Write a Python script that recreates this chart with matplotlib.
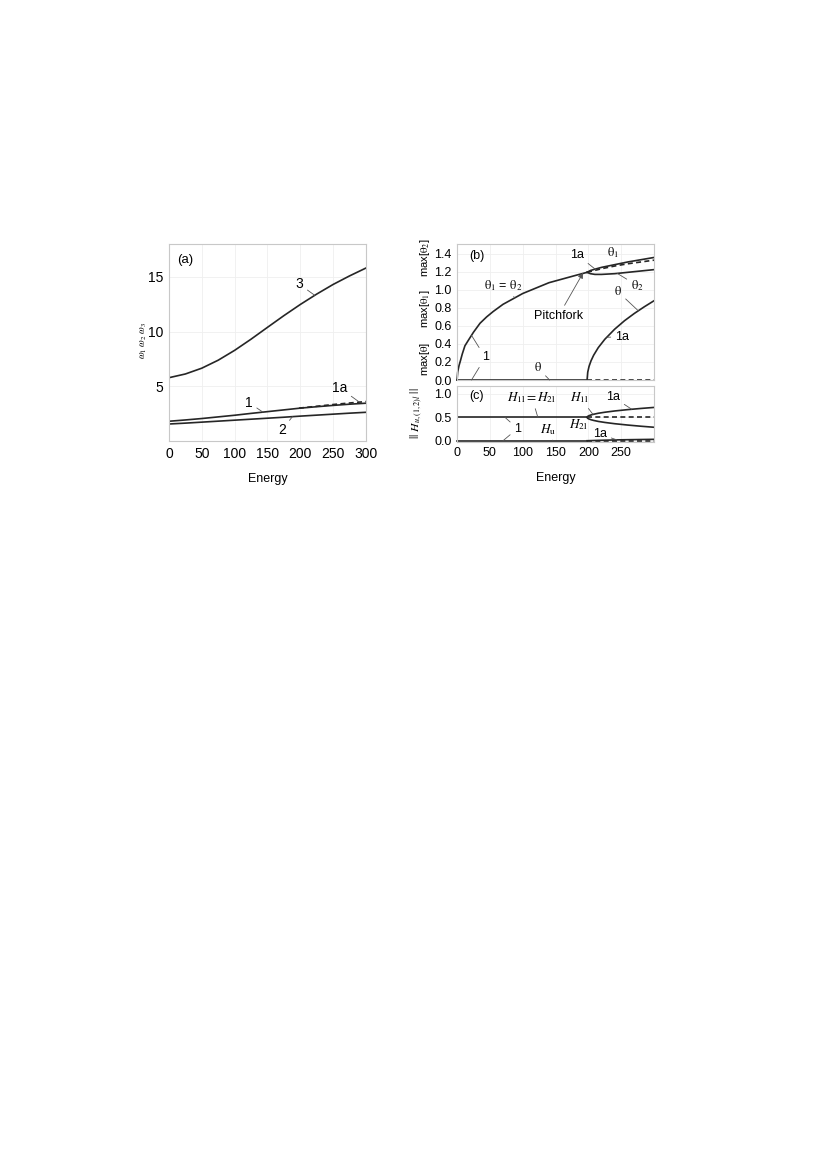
import numpy as np
import matplotlib
matplotlib.use("Agg")
import matplotlib.pyplot as plt

plt.rcParams['font.family'] = ['Liberation Sans', 'DejaVu Sans']
plt.rcParams['mathtext.fontset'] = 'stix'

# ---- panel (a): frequencies vs energy
E_a = [0, 25, 50, 75, 100, 125, 150, 175, 200, 225, 250, 275, 300]
w3 = [5.78, 6.12, 6.65, 7.38, 8.28, 9.3, 10.38, 11.45, 12.47, 13.42, 14.3, 15.08, 15.8]
w1 = [1.8, 1.92, 2.05, 2.2, 2.35, 2.52, 2.68, 2.84, 3.0, 3.13, 3.25, 3.36, 3.45]
w2 = [1.55, 1.63, 1.72, 1.81, 1.9, 1.99, 2.08, 2.17, 2.27, 2.36, 2.45, 2.54, 2.62]
E_a1a = [198, 225, 250, 275, 300]
w1a = [3.0, 3.17, 3.33, 3.47, 3.6]

# ---- panel (b): max angles
E_sym = [0, 1, 3, 5, 8, 12, 18, 25, 35, 45, 55, 70, 85, 100, 120, 140, 160, 180, 198]
th_sym = [0, 0.09, 0.16, 0.21, 0.29, 0.38, 0.45, 0.53, 0.63, 0.70, 0.76, 0.84, 0.90,
          0.96, 1.02, 1.08, 1.12, 1.16, 1.195]
E_sym_u = [198, 220, 240, 260, 280, 300]
th_sym_u = [1.195, 1.235, 1.265, 1.29, 1.31, 1.33]
E_pf = [198, 203, 210, 220, 240, 260, 280, 300]
th1_pf = [1.195, 1.215, 1.23, 1.25, 1.28, 1.31, 1.335, 1.36]
th2_pf = [1.195, 1.18, 1.172, 1.172, 1.18, 1.195, 1.21, 1.225]
E_zero = [0, 198]
E_zero_u = [198, 300]
E_1a = [198, 199, 201, 204, 208, 215, 225, 240, 255, 270, 285, 300]
th_1a = [0, 0.087, 0.151, 0.213, 0.275, 0.359, 0.452, 0.564, 0.658, 0.739, 0.812, 0.88]

# ---- panel (c): norms
E_h = [198, 199, 201, 204, 208, 215, 225, 240, 260, 280, 300]
h1l = [0.5, 0.521, 0.536, 0.551, 0.566, 0.587, 0.609, 0.636, 0.665, 0.69, 0.712]
h2l = [0.5, 0.479, 0.464, 0.449, 0.434, 0.413, 0.391, 0.364, 0.335, 0.31, 0.288]
E_hu = [198, 220, 250, 300]
hu_1a = [0, 0.01, 0.02, 0.03]

lc = '#262626'
gc = '#555555'
lw = 1.2
dash = (0, (3, 2))


def style(ax, fs):
    for s in ax.spines.values():
        s.set_color('#c8c8c8')
        s.set_linewidth(0.8)
    ax.tick_params(length=0, pad=4, labelsize=fs)
    ax.grid(True, color='#efefef', lw=0.6)
    ax.set_axisbelow(True)


def lab(ax, txt, xy, xyt, size=9, color='black'):
    ax.annotate(txt, xy=xy, xytext=xyt, ha='center', va='center', fontsize=size,
                color=color,
                arrowprops=dict(arrowstyle='-', color=gc, lw=0.6, shrinkA=1, shrinkB=0))


fig = plt.figure(figsize=(8.25, 11.7), dpi=100)

# (a)
ax = fig.add_axes([0.2048, 0.6231, 0.2388, 0.1684])
style(ax, 10)
ax.plot(E_a, w3, color=lc, lw=lw)
ax.plot(E_a, w1, color=lc, lw=lw)
ax.plot(E_a, w2, color=lc, lw=lw)
ax.plot(E_a1a, w1a, color=lc, lw=lw, ls=dash)
ax.set_xlim(0, 300)
ax.set_ylim(0, 18)
ax.set_xticks(range(0, 301, 50))
ax.set_yticks([5, 10, 15])
ax.set_xlabel('Energy', fontsize=9, labelpad=9)
ax.text(24, 16.5, '(a)', fontsize=9.5, ha='center', va='center')
lab(ax, '3', (222, np.interp(222, E_a, w3)), (199, 14.3), size=10)
lab(ax, '1', (143, np.interp(143, E_a, w1)), (122, 3.5), size=10)
lab(ax, '2', (188, np.interp(188, E_a, w2)), (172, 1.0), size=10)
lab(ax, '1a', (290, np.interp(290, E_a1a, w1a)), (260, 4.85), size=10)
fig.text(0.174, 0.709, r'$\omega_1\ \omega_2\ \omega_3$', rotation=90, fontsize=7,
         ha='center', va='center')

# (b)
bx = fig.add_axes([0.554, 0.6752, 0.2388, 0.1163])
style(bx, 9)
bx.plot(E_sym, th_sym, color=lc, lw=lw, clip_on=False)
bx.plot(E_sym_u, th_sym_u, color=lc, lw=lw, ls=dash)
bx.plot(E_pf, th1_pf, color=lc, lw=lw)
bx.plot(E_pf, th2_pf, color=lc, lw=lw)
bx.plot(E_zero, [0, 0], color=lc, lw=lw, clip_on=False)
bx.plot(E_zero_u, [0, 0], color=lc, lw=lw, ls=dash, clip_on=False)
bx.plot(E_1a, th_1a, color=lc, lw=lw, clip_on=False)
bx.set_xlim(0, 300)
bx.set_ylim(0, 1.51)
bx.set_xticks(range(0, 251, 50))
bx.set_xticklabels([])
bx.set_yticks(np.arange(0, 1.41, 0.2))
bx.set_yticklabels(['%.1f' % v for v in np.arange(0, 1.41, 0.2)])
bx.text(30, 1.38, '(b)', fontsize=9, ha='center', va='center')
lab(bx, '1a', (212, np.interp(212, E_sym_u, th_sym_u)), (183, 1.39))
lab(bx, r'$\mathrm{\theta}_1$', (253, np.interp(253, E_pf, th1_pf)), (238, 1.41))
lab(bx, r'$\mathrm{\theta}_2$', (244, np.interp(244, E_pf, th2_pf)), (274, 1.05))
lab(bx, r'$\mathrm{\theta}_1$ = $\mathrm{\theta}_2$', (88, np.interp(88, E_sym, th_sym)),
    (70, 1.05))
lab(bx, '1', (22, np.interp(22, E_sym, th_sym)), (43, 0.25))
lab(bx, '1', (22, 0), (43, 0.25), color='none')
lab(bx, r'$\mathrm{\theta}$', (141, 0), (123, 0.134))
lab(bx, r'$\mathrm{\theta}$', (276, np.interp(276, E_1a, th_1a)), (245, 0.98))
lab(bx, '1a', (228, np.interp(228, E_1a, th_1a)), (251, 0.48))
bx.annotate('Pitchfork', xy=(192, 1.19), xytext=(154, 0.705), ha='center', va='center',
            fontsize=9,
            arrowprops=dict(arrowstyle='-|>', color=gc, lw=0.6, shrinkA=2, shrinkB=0,
                            mutation_scale=8))
for t, yc in [(r'max[$\mathrm{\theta}_2$]', 0.7795), (r'max[$\mathrm{\theta}_1$]', 0.7359),
              (r'max[$\mathrm{\theta}$]', 0.6932)]:
    fig.text(0.515, yc, t, rotation=90, fontsize=8, ha='center', va='center')

# (c)
cx = fig.add_axes([0.554, 0.6225, 0.2388, 0.0476])
style(cx, 9)
cx.plot(E_zero, [0.5, 0.5], color=lc, lw=lw)
cx.plot(E_zero_u, [0.5, 0.5], color=lc, lw=lw, ls=dash)
cx.plot(E_h, h1l, color=lc, lw=lw)
cx.plot(E_h, h2l, color=lc, lw=lw)
cx.plot(E_zero, [0, 0], color=lc, lw=lw, clip_on=False)
cx.plot(E_zero_u, [0, 0], color=lc, lw=lw, ls=dash, clip_on=False)
cx.plot(E_hu, hu_1a, color=lc, lw=lw, clip_on=False)
cx.set_xlim(0, 300)
cx.set_ylim(-0.02, 1.17)
cx.set_xticks(range(0, 251, 50))
cx.set_yticks([0, 0.5, 1.0])
cx.set_yticklabels(['0.0', '0.5', '1.0'])
cx.set_xlabel('Energy', fontsize=9, labelpad=9)
cx.text(30, 0.95, '(c)', fontsize=9, ha='center', va='center')
lab(cx, r'$H_{\rm 1l}=H_{\rm 2l}$', (123, 0.5), (114, 0.93), size=9.5)
lab(cx, '1', (73, 0.5), (92, 0.26))
lab(cx, '1', (70, 0), (92, 0.26), color='none')
lab(cx, r'$H_{\rm u}$', (146, 0), (139, 0.23), size=9.5)
lab(cx, r'$H_{\rm 1l}$', (207, np.interp(207, E_h, h1l)), (187, 0.93), size=9.5)
lab(cx, r'$H_{\rm 2l}$', (205, np.interp(205, E_h, h2l)), (184, 0.335), size=9.5)
lab(cx, '1a', (266, np.interp(266, E_h, h1l)), (238, 0.93))
lab(cx, '1a', (243, 0.02), (218, 0.14))
fig.text(0.505, 0.647, r'$||\ H_{u,(1,2)l}\ ||$', rotation=90, fontsize=8.5,
         ha='center', va='center')

fig.savefig('out.png', dpi=100)
